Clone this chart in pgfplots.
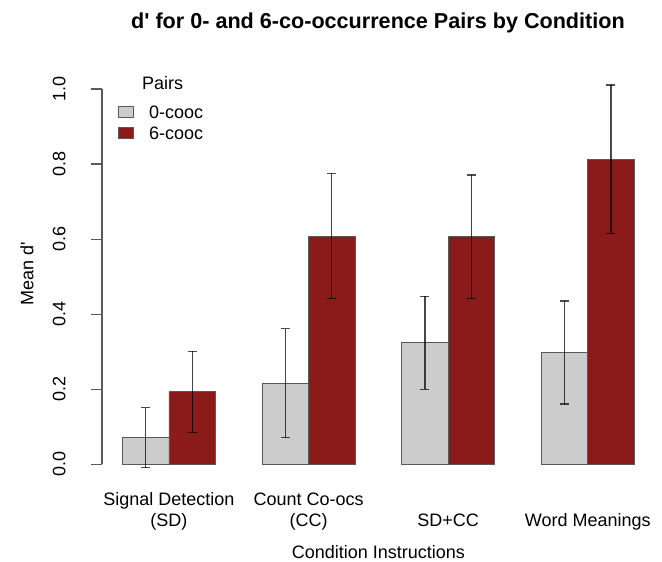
\documentclass[border=0pt]{standalone}
\usepackage{pgfplots}
\pgfplotsset{compat=1.18}
\usepackage{fontspec}
\setmainfont{Liberation Sans}
\definecolor{barred}{HTML}{8B1A1A}
\definecolor{bargray}{HTML}{CCCCCC}
\begin{document}
\fontsize{18}{21}\selectfont
\begin{tikzpicture}
\useasboundingbox (0,0) rectangle (662pt,562pt);
\begin{axis}[
    at={(102pt,82.7pt)}, anchor=south west,
    scale only axis, width=552.7pt, height=405.3pt,
    xmin=0.56, xmax=12.44, ymin=-0.04, ymax=1.04,
    clip=false,
    separate axis lines,
    axis x line*=bottom, axis y line*=left,
    x axis line style={draw=none},
    y axis line style={draw=black!65, line width=1.2pt, shorten <=15pt, shorten >=15pt},
    xtick={2,5,8,11},
    xticklabels={
        {\begin{tabular}[b]{@{}c@{}}Signal Detection\\(SD)\end{tabular}},
        {\begin{tabular}[b]{@{}c@{}}Count Co-ocs\\(CC)\end{tabular}},
        SD+CC, Word Meanings},
    xtick style={draw=none},
    xticklabel style={anchor=base, yshift=-36.7pt},
    ytick={0,0.2,0.4,0.6,0.8,1},
    tick align=outside, major tick length=11pt,
    ytick style={black!65, line width=1.2pt},
    yticklabel style={xshift=-25.7pt, rotate=90, anchor=base},
    /pgf/number format/.cd, fixed, fixed zerofill, precision=1, assume math mode=true,
    /pgfplots/.cd,
    xlabel={Condition Instructions},
    xlabel style={at={(axis description cs:0.5,0)}, anchor=base, yshift=-79.7pt},
    ylabel={Mean d\textquotesingle},
    ylabel style={at={(axis description cs:-0.1243,0.5065)}, anchor=base},
    legend style={at={(axis cs:0.905,0.957)}, anchor=north west, draw=none, fill=none,
        inner sep=0pt, row sep=8pt, column sep=15pt,
        cells={anchor=base west},
        nodes={inner sep=0pt, text height=13pt, text depth=0pt}},
    legend image code/.code={\draw[#1] (0pt,0.5pt) rectangle (15pt,12pt);},
    error bars/error bar style={black, opacity=0.7, line width=1.3pt},
    error bars/error mark options={rotate=90, mark size=4.5pt, line width=1.3pt},
]
\addplot[ybar, bar width=1, bar shift=0pt, fill=bargray, draw=black!65, line width=0.9pt,
    error bars/.cd, y dir=both, y explicit]
    coordinates {(1.5,0.071) +- (0,0.080) (4.5,0.216) +- (0,0.145)
                 (7.5,0.324) +- (0,0.124) (10.5,0.298) +- (0,0.137)};
\addlegendentry{0-cooc}
\addplot[ybar, bar width=1, bar shift=0pt, fill=barred, draw=black!65, line width=0.9pt,
    error bars/.cd, y dir=both, y explicit]
    coordinates {(2.5,0.193) +- (0,0.108) (5.5,0.608) +- (0,0.167)
                 (8.5,0.606) +- (0,0.165) (11.5,0.813) +- (0,0.198)};
\addlegendentry{6-cooc}
\end{axis}
\node[anchor=base west] at (136pt,472pt) {Pairs};
\node[anchor=base, font=\fontsize{21.6}{25}\selectfont\bfseries] at (378pt,533pt)
    {d\textquotesingle{} for 0- and 6-co-occurrence Pairs by Condition};
\end{tikzpicture}
\end{document}
